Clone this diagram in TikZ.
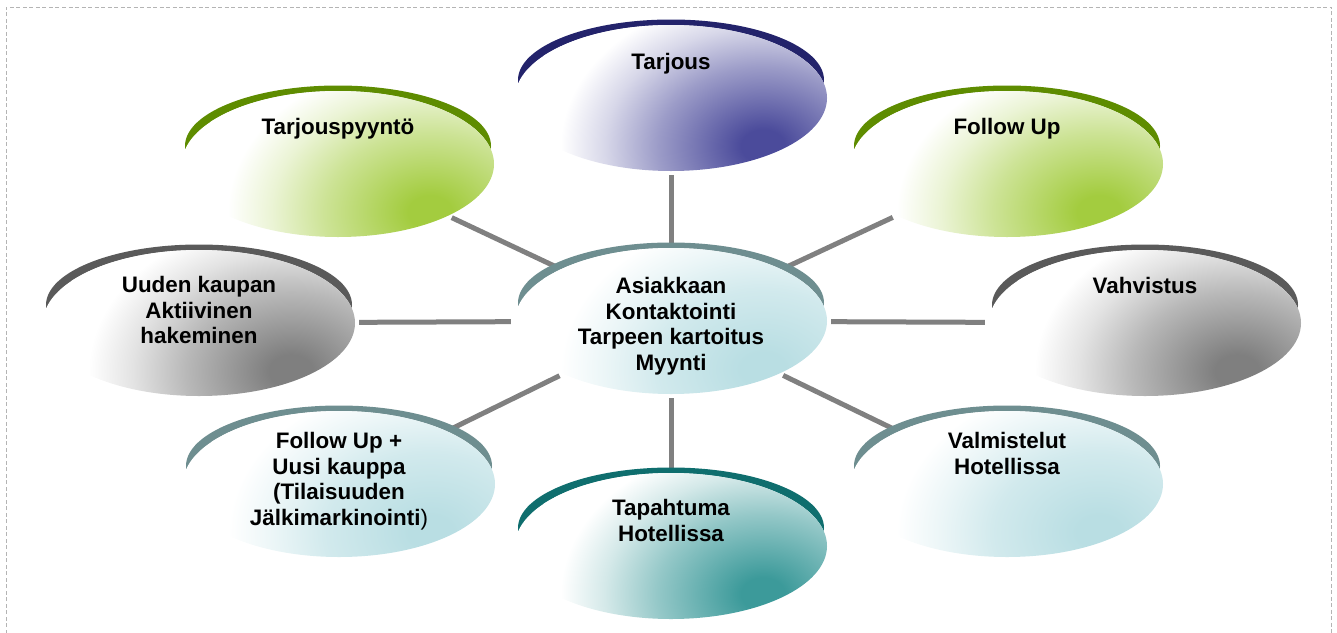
\documentclass[tikz,border=0pt]{standalone}
\usepackage{fontspec}
\setmainfont{Liberation Sans}
\usetikzlibrary{shapes.geometric,backgrounds}
\definecolor{navyArc}{HTML}{23236B}
\definecolor{navyFill}{HTML}{4B4B9B}
\definecolor{greenArc}{HTML}{5E8C00}
\definecolor{greenFill}{HTML}{A3CC3F}
\definecolor{grayArc}{HTML}{5A5A5A}
\definecolor{grayFill}{HTML}{7F7F7F}
\definecolor{cyanArc}{HTML}{6E8E90}
\definecolor{cyanFill}{HTML}{B9DEE3}
\definecolor{tealArc}{HTML}{0F6E6E}
\definecolor{tealFill}{HTML}{3C9A9A}
\definecolor{spoke}{HTML}{808080}
\definecolor{frameC}{HTML}{B4B4B4}
\pgfdeclareradialshading{spNavy}{\pgfpoint{0bp}{0bp}}{color(0bp)=(navyFill); color(2.5bp)=(navyFill); color(12bp)=(navyFill!55!white); color(18bp)=(navyFill!22!white); color(23bp)=(white); color(50bp)=(white)}
\pgfdeclareradialshading{spGreen}{\pgfpoint{0bp}{0bp}}{color(0bp)=(greenFill); color(2.5bp)=(greenFill); color(12bp)=(greenFill!55!white); color(18bp)=(greenFill!22!white); color(23bp)=(white); color(50bp)=(white)}
\pgfdeclareradialshading{spGray}{\pgfpoint{0bp}{0bp}}{color(0bp)=(grayFill); color(2.5bp)=(grayFill); color(12bp)=(grayFill!55!white); color(18bp)=(grayFill!22!white); color(23bp)=(white); color(50bp)=(white)}
\pgfdeclareradialshading{spCyan}{\pgfpoint{0bp}{0bp}}{color(0bp)=(cyanFill); color(2.5bp)=(cyanFill); color(12bp)=(cyanFill!65!white); color(18bp)=(cyanFill!28!white); color(23bp)=(white); color(50bp)=(white)}
\pgfdeclareradialshading{spTeal}{\pgfpoint{0bp}{0bp}}{color(0bp)=(tealFill); color(2.5bp)=(tealFill); color(12bp)=(tealFill!55!white); color(18bp)=(tealFill!22!white); color(23bp)=(white); color(50bp)=(white)}
\newcommand\rimof[2]{\fill[#2] ([yshift=18pt]#1.center) ellipse [x radius=153pt, y radius=60.5pt];}
\newcommand\shadeof[2]{\begin{scope}
  \clip (#1.center) ellipse [x radius=156pt, y radius=73pt];
  \shade[shading=#2] ([shift={(-128pt,117pt)}]#1.center) rectangle ([shift={(312pt,-213pt)}]#1.center);
\end{scope}}
\tikzset{
  ell/.style={ellipse, draw=none, fill=white, minimum width=312pt, minimum height=146pt, inner sep=0pt},
  lbl/.style={font=\fontsize{22.4pt}{25.7pt}\selectfont\bfseries, align=center, inner sep=0pt, anchor=north, text=black},
  link/.style={draw=spoke, line width=5pt, shorten <=4pt, shorten >=4pt},
  frameline/.style={draw=frameC, line width=0.8pt, dash pattern=on 4pt off 2.5pt}
}
\begin{document}
\begin{tikzpicture}[x=1pt,y=-1pt]
\useasboundingbox (0,0) rectangle (1337,632);
\draw[frameline] (6,640) -- (6,7) -- (1331.5,7) -- (1331.5,640);
% ellipses
\node[ell] (t)  at (671,98)   {};
\node[ell] (tp) at (338,164)  {};
\node[ell] (fu) at (1007,164) {};
\node[ell] (uk) at (199,323)  {};
\node[ell] (c)  at (671,321)  {};
\node[ell] (va) at (1145,323) {};
\node[ell] (fp) at (339,484)  {};
\node[ell] (ta) at (671,546)  {};
\node[ell] (vm) at (1007,484) {};
\shadeof{t}{spNavy}
\shadeof{tp}{spGreen}
\shadeof{fu}{spGreen}
\shadeof{uk}{spGray}
\shadeof{c}{spCyan}
\shadeof{va}{spGray}
\shadeof{fp}{spCyan}
\shadeof{ta}{spTeal}
\shadeof{vm}{spCyan}
\begin{pgfonlayer}{background}
  \draw[link] (c) -- (t);
  \draw[link] (c) -- (tp);
  \draw[link] (c) -- (fu);
  \draw[link] (c) -- (uk);
  \draw[link] (c) -- (va);
  \draw[link] (c) -- (fp);
  \draw[link] (c) -- (ta);
  \draw[link] (c) -- (vm);
  \rimof{t}{navyArc}
  \rimof{tp}{greenArc}
  \rimof{fu}{greenArc}
  \rimof{uk}{grayArc}
  \rimof{c}{cyanArc}
  \rimof{va}{grayArc}
  \rimof{fp}{cyanArc}
  \rimof{ta}{tealArc}
  \rimof{vm}{cyanArc}
\end{pgfonlayer}
% labels
\node[lbl] (tL)  at ([yshift=45pt]t.center)  {Tarjous};
\node[lbl] (tpL) at ([yshift=46pt]tp.center) {Tarjouspyyntö};
\node[lbl] (fuL) at ([yshift=46pt]fu.center) {Follow Up};
\node[lbl] (ukL) at ([yshift=47pt]uk.center) {Uuden kaupan\\Aktiivinen\\hakeminen};
\node[lbl] (cL)  at ([yshift=44pt]c.center)  {Asiakkaan\\Kontaktointi\\Tarpeen kartoitus\\Myynti};
\node[lbl] (vaL) at ([yshift=46pt]va.center) {Vahvistus};
\node[lbl] (fpL) at ([yshift=52pt]fp.center) {Follow Up +\\Uusi kauppa\\(Tilaisuuden\\Jälkimarkinointi{\mdseries )}};
\node[lbl] (taL) at ([yshift=47pt]ta.center) {Tapahtuma\\Hotellissa};
\node[lbl] (vmL) at ([yshift=52pt]vm.center) {Valmistelut\\Hotellissa};
\end{tikzpicture}
\end{document}
